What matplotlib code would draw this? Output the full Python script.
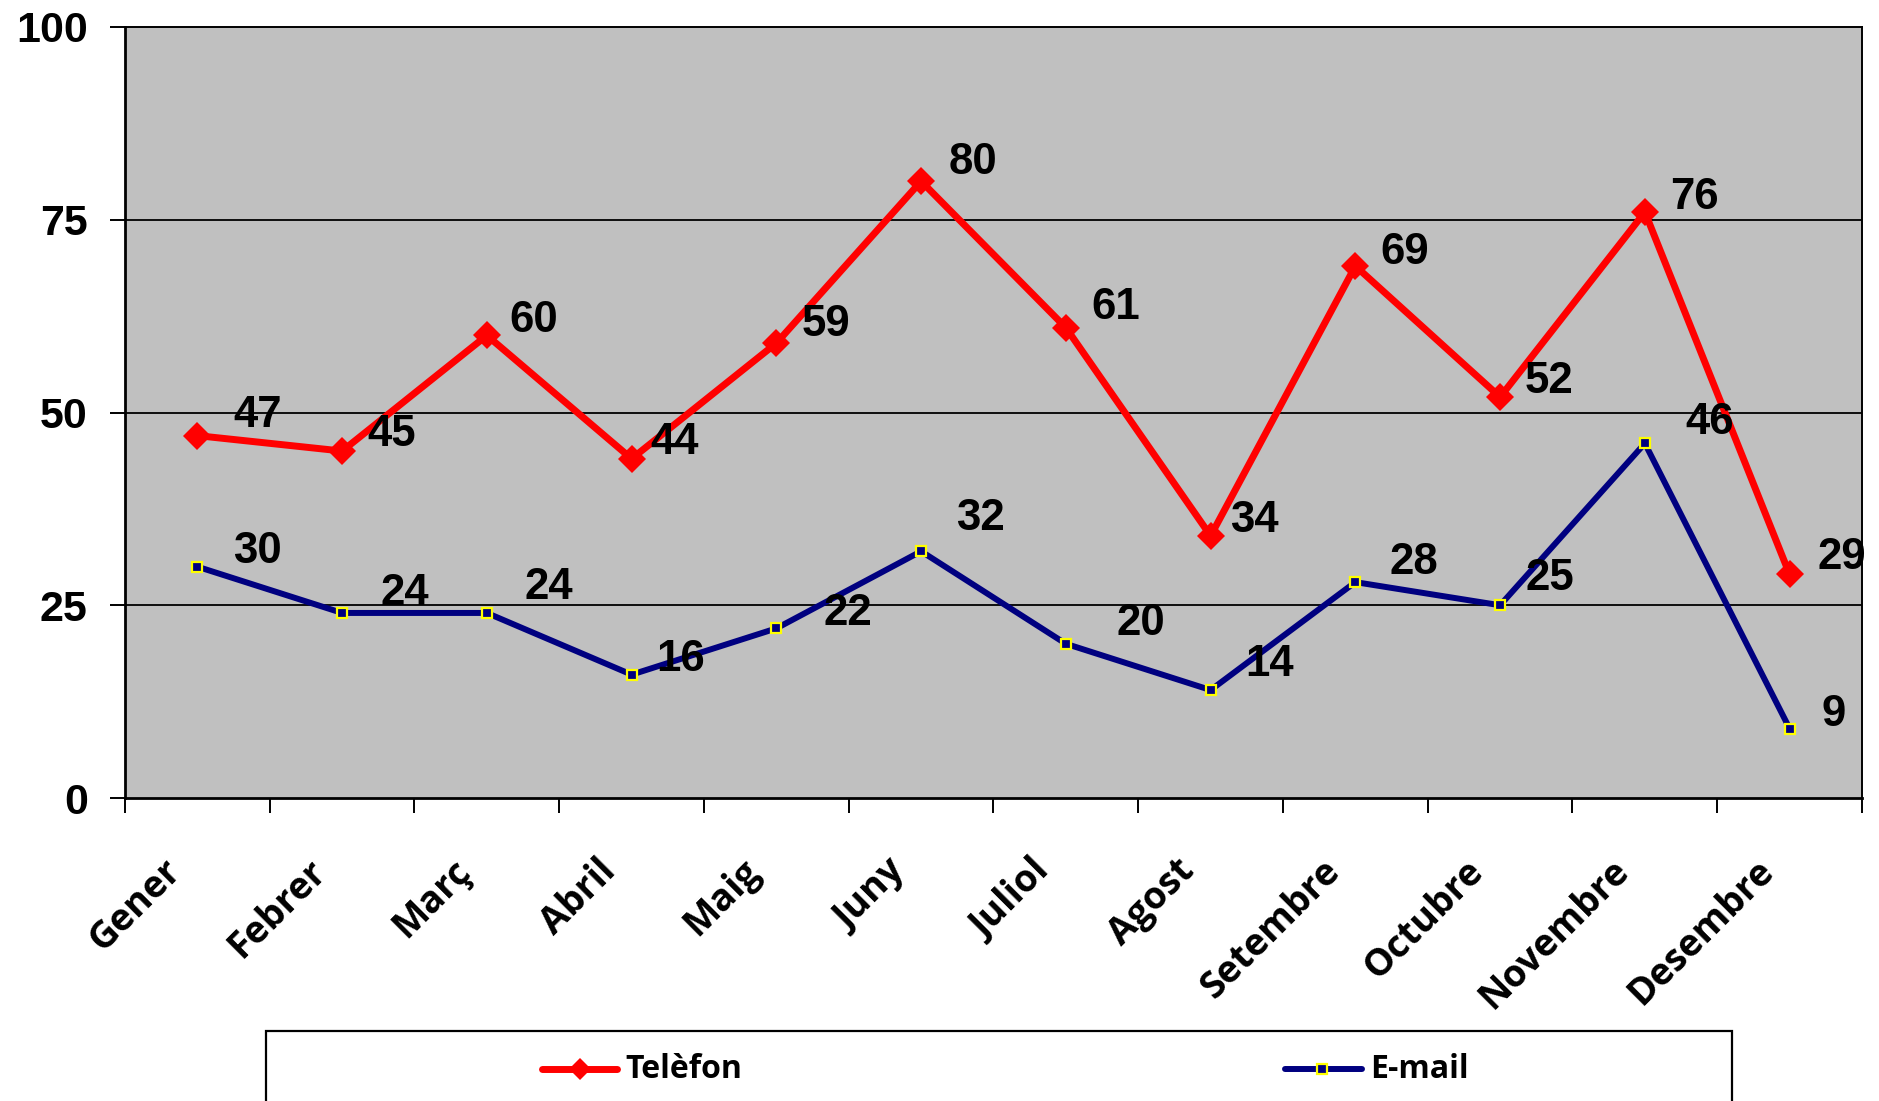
import matplotlib
matplotlib.use("Agg")
import matplotlib.pyplot as plt
from matplotlib.lines import Line2D
from matplotlib.patches import Rectangle
import numpy as np

# Monthly contact counts by channel
months = ["Gener", "Febrer", "Març", "Abril", "Maig", "Juny", "Juliol",
          "Agost", "Setembre", "Octubre", "Novembre", "Desembre"]
telefon = [47, 45, 60, 44, 59, 80, 61, 34, 69, 52, 76, 29]
email = [30, 24, 24, 16, 22, 32, 20, 14, 28, 25, 46, 9]
y_ticks = [0, 25, 50, 75, 100]
series_names = ["Telèfon", "E-mail"]

# Label placement (pixel offsets from each point)
tel_offsets = [(60, 20), (50, 17), (47, 15), (43, 16), (50, 19), (52, 19),
               (50, 20), (44, 15), (49, 14), (49, 16), (50, 15), (52, 17)]
mail_offsets = [(60, 15), (63, 19), (62, 25), (49, 15), (72, 15), (59, 33),
                (75, 20), (59, 26), (59, 20), (50, 27), (65, 21), (44, 14)]

W, H, DPI = 1879, 1101, 100
RED = "#FF0000"
NAVY = "#000080"
YELLOW = "#FFFF00"

fig = plt.figure(figsize=(W / DPI, H / DPI), dpi=DPI)
fig.patch.set_facecolor("white")

left, right, top, bottom = 125, 1862, 27, 798
ax = fig.add_axes([left / W, 1 - bottom / H, (right - left) / W, (bottom - top) / H])
ax.set_facecolor("#C0C0C0")

x = np.arange(1, len(months) + 1)
ax.set_xlim(0.5, len(months) + 0.5)
ax.set_ylim(y_ticks[0], y_ticks[-1])

for yv in y_ticks[1:-1]:
    ax.axhline(yv, color="black", lw=1.3, zorder=1)

ax.plot(x, telefon, color=RED, lw=5, marker="D", ms=14.5, mfc=RED, mew=0,
        zorder=3)
ax.plot(x, email, color=NAVY, lw=4.3, marker="s", ms=7.2, mfc=NAVY, mec=YELLOW,
        mew=1.6, zorder=4)

label_font = dict(family="Liberation Sans", weight="bold", size=31.5)
for xi, v, (dx, dy) in zip(x, telefon, tel_offsets):
    ax.annotate(str(v), xy=(xi, v), xytext=(dx, dy), textcoords="offset pixels",
                ha="center", va="center", zorder=6, **label_font)
for xi, v, (dx, dy) in zip(x, email, mail_offsets):
    ax.annotate(str(v), xy=(xi, v), xytext=(dx, dy), textcoords="offset pixels",
                ha="center", va="center", zorder=6, **label_font)

# Spines and ticks
for s in ax.spines.values():
    s.set_color("black")
    s.set_linewidth(1.4)
ax.spines["left"].set_linewidth(2.0)
ax.spines["bottom"].set_linewidth(2.0)

ax.set_yticks(y_ticks)
ax.set_yticklabels([str(v) for v in y_ticks])
for lab in ax.get_yticklabels():
    lab.set_fontfamily("Liberation Sans")
    lab.set_fontweight("bold")
    lab.set_fontsize(31)
ax.tick_params(axis="y", length=10.8, width=1.4, pad=16, direction="out")

ax.set_xticks(np.arange(0.5, len(months) + 1, 1))
ax.set_xticklabels([])
ax.tick_params(axis="x", length=10.8, width=1.4, direction="out")

for xi, m in zip(x, months):
    ax.annotate(m, xy=(xi, 0), xycoords=ax.get_xaxis_transform(),
                xytext=(-8, -54), textcoords="offset pixels",
                rotation=45, ha="right", va="top",
                family="Open Sans", weight="bold", size=27,
                annotation_clip=False)

# Legend box along the bottom
def fx(px):
    return px / W


def fy(py):
    return 1 - py / H


fig.add_artist(Rectangle((fx(266), fy(1115)), fx(1732) - fx(266), fy(1031) - fy(1115),
                         transform=fig.transFigure, facecolor="white",
                         edgecolor="black", lw=1.6, clip_on=False))

ly = fy(1069)
fig.add_artist(Line2D([fx(542), fx(617)], [ly, ly], transform=fig.transFigure,
                      color=RED, lw=5, solid_capstyle="round"))
fig.add_artist(Line2D([fx(579.5)], [ly], transform=fig.transFigure, color=RED,
                      marker="D", ms=11, mew=0, linestyle="none"))
fig.text(fx(625), ly, series_names[0], ha="left", va="center",
         family="Open Sans", weight="bold", size=23)

fig.add_artist(Line2D([fx(1285), fx(1362)], [ly, ly], transform=fig.transFigure,
                      color=NAVY, lw=4.3, solid_capstyle="round"))
fig.add_artist(Line2D([fx(1322)], [ly], transform=fig.transFigure, color=NAVY,
                      marker="s", ms=7.2, mfc=NAVY, mec=YELLOW, mew=1.6,
                      linestyle="none"))
fig.text(fx(1370), ly, series_names[1], ha="left", va="center",
         family="Open Sans", weight="bold", size=23)

fig.savefig("out.png", dpi=DPI)
